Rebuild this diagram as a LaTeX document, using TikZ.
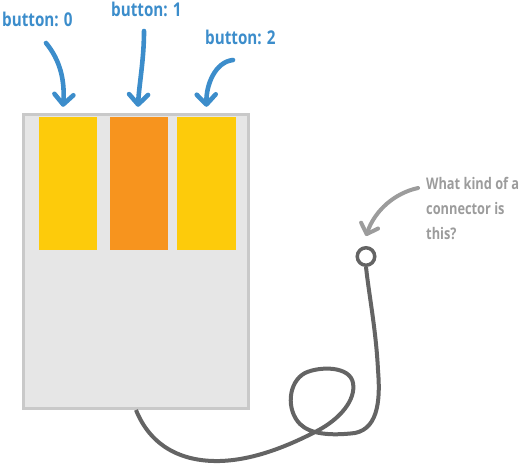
\documentclass[tikz,border=0pt]{standalone}
\usepackage{fontspec}
\usetikzlibrary{arrows.meta}
\newfontfamily\notefont[FakeStretch=0.8]{Open Sans}
\definecolor{noteblue}{HTML}{3C8DCB}
\definecolor{notegray}{HTML}{9C9C9C}
\definecolor{cablegray}{HTML}{646464}
\definecolor{bodyfill}{HTML}{E6E6E6}
\definecolor{bodyline}{HTML}{C9C9C9}
\definecolor{btnyellow}{HTML}{FDCB0B}
\definecolor{btnorange}{HTML}{F7941E}
\tikzset{
  btnlabel/.style={anchor=base west, inner sep=0pt, text=noteblue, font=\notefont\bfseries\fontsize{19}{22}\selectfont},
  bluearrow/.style={noteblue, line width=4.6pt, line cap=round, -{Straight Barb[length=10pt, width=19pt, round]}},
  btnbox/.style={inner sep=0pt, minimum height=133pt}
}

\begin{document}
\begin{tikzpicture}[x=1pt, y=-1pt]
\useasboundingbox (0,0) rectangle (519,465);
% mouse body and buttons
\node[draw=bodyline, fill=bodyfill, line width=3pt, inner sep=0pt, minimum width=225pt, minimum height=294pt] (body) at (136,261.5) {};
\node[btnbox, fill=btnyellow, minimum width=58pt] (btn0) at (68,183.5) {};
\node[btnbox, fill=btnorange, minimum width=58pt] (btn1) at (139,183.5) {};
\node[btnbox, fill=btnyellow, minimum width=59pt] (btn2) at (206.5,183.5) {};
% labels
\node[btnlabel] (lbl0) at (2,27) {button: 0};
\node[btnlabel] (lbl1) at (111,17) {button: 1};
\node[btnlabel] (lbl2) at (205,45) {button: 2};
\coordinate (tail0) at (46,43);
\coordinate (tail1) at (144,31);
\coordinate (tail2) at (233,60);
\draw[bluearrow] (tail0) .. controls (60,60) and (65,80) .. ([xshift=-5pt, yshift=10pt]btn0.north);
\draw[bluearrow] (tail1) .. controls (144,60) and (139,85) .. ([xshift=-1pt, yshift=10pt]btn1.north);
\draw[bluearrow] (tail2) .. controls (215,62) and (206,85) .. ([yshift=10pt]btn2.north);
% connector and cable
\node[draw=cablegray, line width=3.5pt, circle, inner sep=0pt, minimum size=17.5pt, fill=white] (plug) at (366,256.5) {};
\draw[cablegray, line width=4pt] (body.south)
  .. controls (150,445) and (180,462) .. (220,461)
  .. controls (255,460) and (290,445) .. (317,431)
  .. controls (340,419) and (356,400) .. (353,383)
  .. controls (350,366) and (320,366) .. (305,373)
  .. controls (288,382) and (286,410) .. (300,424)
  .. controls (310,434) and (330,436) .. (355,433)
  .. controls (380,428) and (380,395) .. (378,370)
  .. controls (376,330) and (369,295) .. (plug.south);
% question
\node[anchor=base west, inner sep=0pt, align=left, text=notegray, font=\notefont\bfseries\fontsize{16}{25}\selectfont] (question) at (426,239) {What kind of a\\connector is\\this?};
\coordinate (qtail) at (418,188);
\draw[notegray, line width=4pt, line cap=round, -{Straight Barb[length=9pt, width=18pt, round]}] (qtail) .. controls (395,193) and (375,210) .. ([yshift=10pt]plug.north);
\end{tikzpicture}
\end{document}
